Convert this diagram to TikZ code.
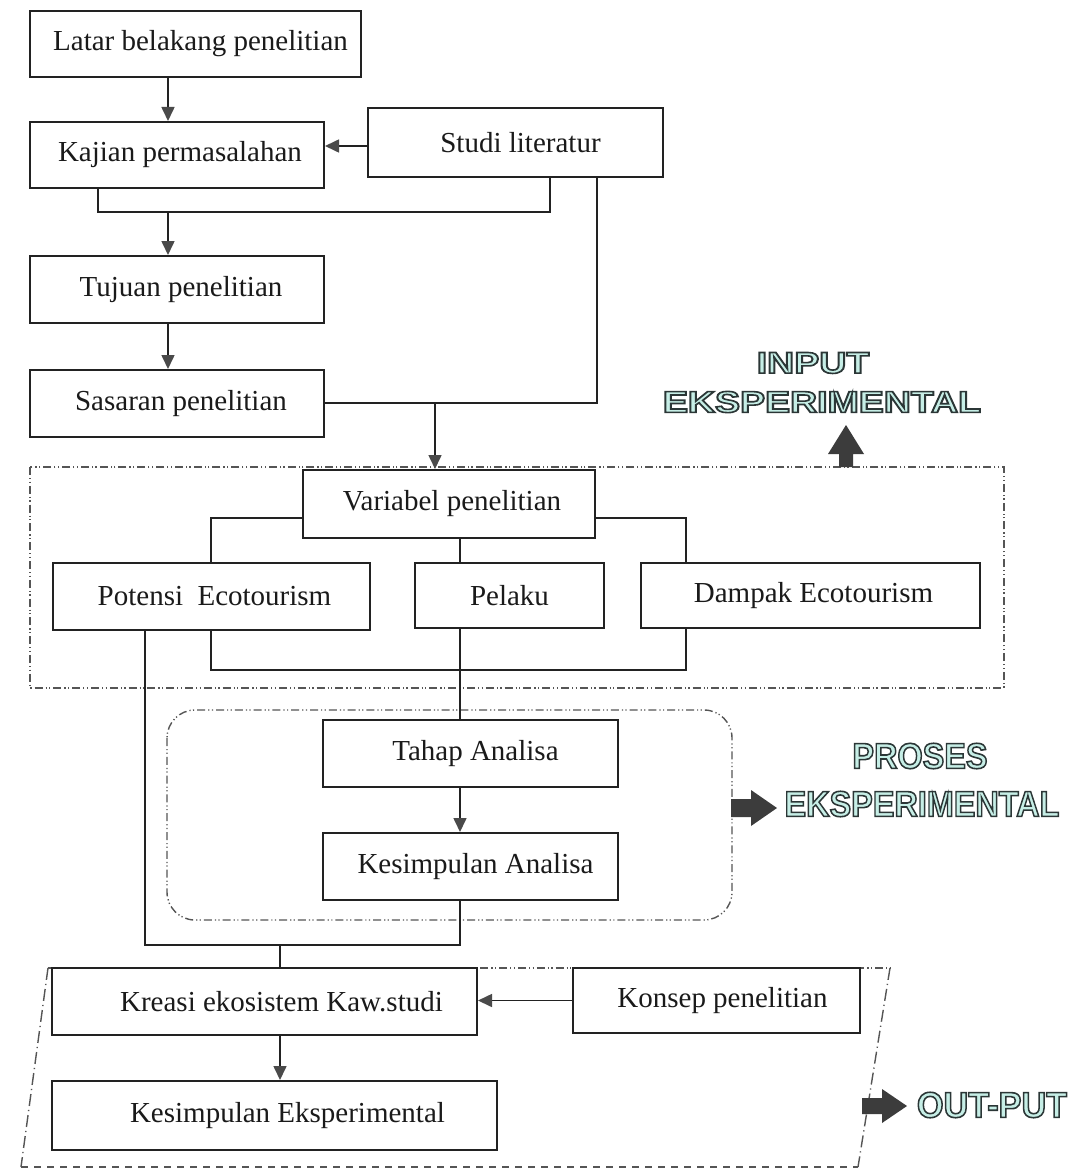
\documentclass[tikz,border=0pt]{standalone}
\usepackage{fontspec}
\usepackage{graphicx}
\setmainfont{Liberation Serif}
\newfontfamily\labelfont{Liberation Sans}
\usetikzlibrary{arrows.meta}

\definecolor{boxline}{HTML}{222222}
\definecolor{txt}{HTML}{1A1A1A}
\definecolor{tipc}{HTML}{4A4A4A}
\definecolor{frame}{HTML}{555555}
\definecolor{blk}{HTML}{3C3C3C}
\definecolor{fillc}{HTML}{C6EEE6}

% outlined caption: light fill, dark stroked glyph edges (text render mode 2)
\newcommand\outlinetext[4]{%
  \node[lbl] (#1) at (#2,#3) {\color{fillc}%
    \special{pdf:literal direct 0.17 0.21 0.21 RG 0.8 w 2 Tr}#4%
    \special{pdf:literal direct 0 Tr}};}

% centred box text nudged sideways by #1 px
\newcommand\nudge[2]{\hspace*{#1pt}#2}

\begin{document}
\begin{tikzpicture}[x=0.5pt,y=-0.5pt,
  box/.style={draw=boxline, line width=1pt, inner sep=0pt, align=center,
    font=\fontsize{14.5}{17}\selectfont, text=txt},
  link/.style={draw=boxline, line width=0.8pt},
  arr/.style={link, -{Triangle[length=7pt,width=6.5pt,fill=tipc,color=tipc]}},
  ddframe/.style={draw=frame, line width=0.7pt,
    dash pattern=on 4pt off 1.5pt on 0.6pt off 1.2pt on 0.6pt off 1.5pt},
  lbl/.style={inner sep=0pt, font=\labelfont\bfseries}]

\useasboundingbox[fill=white] (0,0) rectangle (1083,1172);

% group frames
\draw[ddframe] (30,467) rectangle (1004,688);
\draw[ddframe, rounded corners=14pt] (167,710) rectangle (732,920);
\draw[ddframe] (48,968) -- (890,968);
\draw[draw=frame, line width=0.7pt, dash pattern=on 6pt off 2pt on 0.6pt off 2pt]
  (48,968) -- (21,1167) (890,968) -- (858,1167);
\draw[draw=frame, line width=1.1pt, dash pattern=on 3.5pt off 3pt] (21,1167) -- (858,1167);

% process boxes
\node[box, minimum width=165.5pt, minimum height=33pt]   (lat) at (195.5,44)    {\nudge{5}{Latar belakang penelitian}};
\node[box, minimum width=147pt,   minimum height=33pt]   (kaj) at (177,155)     {\nudge{3}{Kajian permasalahan}};
\node[box, minimum width=147.5pt, minimum height=34.5pt] (stu) at (515.5,142.5) {\nudge{5}{Studi literatur}};
\node[box, minimum width=147pt,   minimum height=33.5pt] (tuj) at (177,289.5)   {\nudge{4}{Tujuan penelitian}};
\node[box, minimum width=147pt,   minimum height=33.5pt] (sas) at (177,403.5)   {\nudge{4}{Sasaran penelitian}};
\node[box, minimum width=146pt,   minimum height=34pt]   (var) at (449,504)     {\nudge{3}{Variabel penelitian}};
\node[box, minimum width=158.5pt, minimum height=33.5pt] (pot) at (211.5,596.5) {\nudge{3}{Potensi\ \ Ecotourism}};
\node[box, minimum width=94.5pt,  minimum height=32.5pt] (pel) at (509.5,595.5) {Pelaku};
\node[box, minimum width=169.5pt, minimum height=32.5pt] (dam) at (810.5,595.5) {\nudge{3}{Dampak Ecotourism}};
\node[box, minimum width=147.5pt, minimum height=33.5pt] (tah) at (470.5,753.5) {\nudge{5}{Tahap Analisa}};
\node[box, minimum width=147.5pt, minimum height=33.5pt] (kes) at (470.5,866.5) {\nudge{5}{Kesimpulan Analisa}};
\node[box, minimum width=212.5pt, minimum height=33.5pt] (kre) at (264.5,1001.5) {\nudge{17}{Kreasi ekosistem Kaw.studi}};
\node[box, minimum width=143.5pt, minimum height=32.5pt] (kon) at (716.5,1000.5) {\nudge{6}{Konsep penelitian}};
\node[box, minimum width=222.5pt, minimum height=34.5pt] (kse) at (274.5,1115.5) {\nudge{13}{Kesimpulan Eksperimental}};

% junction points
\coordinate (k1) at (0,146);
\coordinate (j1) at (98,212);
\coordinate (j2) at (550,212);
\coordinate (a1) at (168,212);
\coordinate (j3) at (597,403);
\coordinate (j4) at (435,403);
\coordinate (v1) at (211,518);
\coordinate (v2) at (686,518);
\coordinate (v3) at (460,670);
\coordinate (h1) at (211,670);
\coordinate (h2) at (686,670);
\coordinate (w1) at (145,945);
\coordinate (w2) at (460,945);
\coordinate (w3) at (280,945);

% connectors
\draw[arr] (lat.south -| a1) -- (kaj.north -| a1);
\draw[arr] (stu.west |- k1) -- (kaj.east |- k1);
\draw[link] (kaj.south -| j1) -- (j1) -- (j2) -- (stu.south -| j2);
\draw[arr] (a1) -- (tuj.north -| a1);
\draw[arr] (tuj.south -| a1) -- (sas.north -| a1);
\draw[link] (stu.south -| j3) -- (j3) -- (j4);
\draw[link] (sas.east |- j4) -- (j4);
\draw[arr] (j4) -- (var.north -| j4);
\draw[link] (var.west |- v1) -| (pot.north -| v1);
\draw[link] (var.east |- v2) -| (dam.north -| v2);
\draw[link] (var.south -| v3) -- (pel.north -| v3);
\draw[link] (pot.south -| h1) -- (h1) -- (h2) -- (dam.south -| h2);
\draw[link] (pel.south -| v3) -- (tah.north -| v3);
\draw[arr] (tah.south -| v3) -- (kes.north -| v3);
\draw[link] (pot.south -| w1) -- (w1) -- (w2) -- (kes.south -| w2);
\draw[link] (w3) -- (kre.north -| w3);
\draw[arr] (kon.west) -- (kre.east |- kon.west);
\draw[arr] (kre.south -| w3) -- (kse.north -| w3);

% block arrows
\fill[blk] (839,467) -- (839,454) -- (828,454) -- (846,425) -- (864,454) -- (853,454) -- (853,467) -- cycle;
\fill[blk] (731,799) -- (751,799) -- (751,790) -- (777,808) -- (751,826) -- (751,817) -- (731,817) -- cycle;
\fill[blk] (862,1098) -- (882,1098) -- (882,1089) -- (907,1106) -- (882,1123) -- (882,1114) -- (862,1114) -- cycle;

% stage captions
\outlinetext{inA}{813}{363}{\fontsize{15}{17}\selectfont\scalebox{1.25}[1]{INPUT}}
\outlinetext{inB}{822}{402}{\fontsize{15}{17}\selectfont\scalebox{1.25}[1]{EKSPERIMENTAL}}
\outlinetext{prA}{920}{756}{\fontsize{18}{20}\selectfont\scalebox{0.9}[1]{PROSES}}
\outlinetext{prB}{922}{804}{\fontsize{18}{20}\selectfont\scalebox{0.9}[1]{EKSPERIMENTAL}}
\outlinetext{out}{992}{1105}{\fontsize{18}{20}\selectfont\scalebox{0.95}[1]{OUT-PUT}}
\end{tikzpicture}
\end{document}
